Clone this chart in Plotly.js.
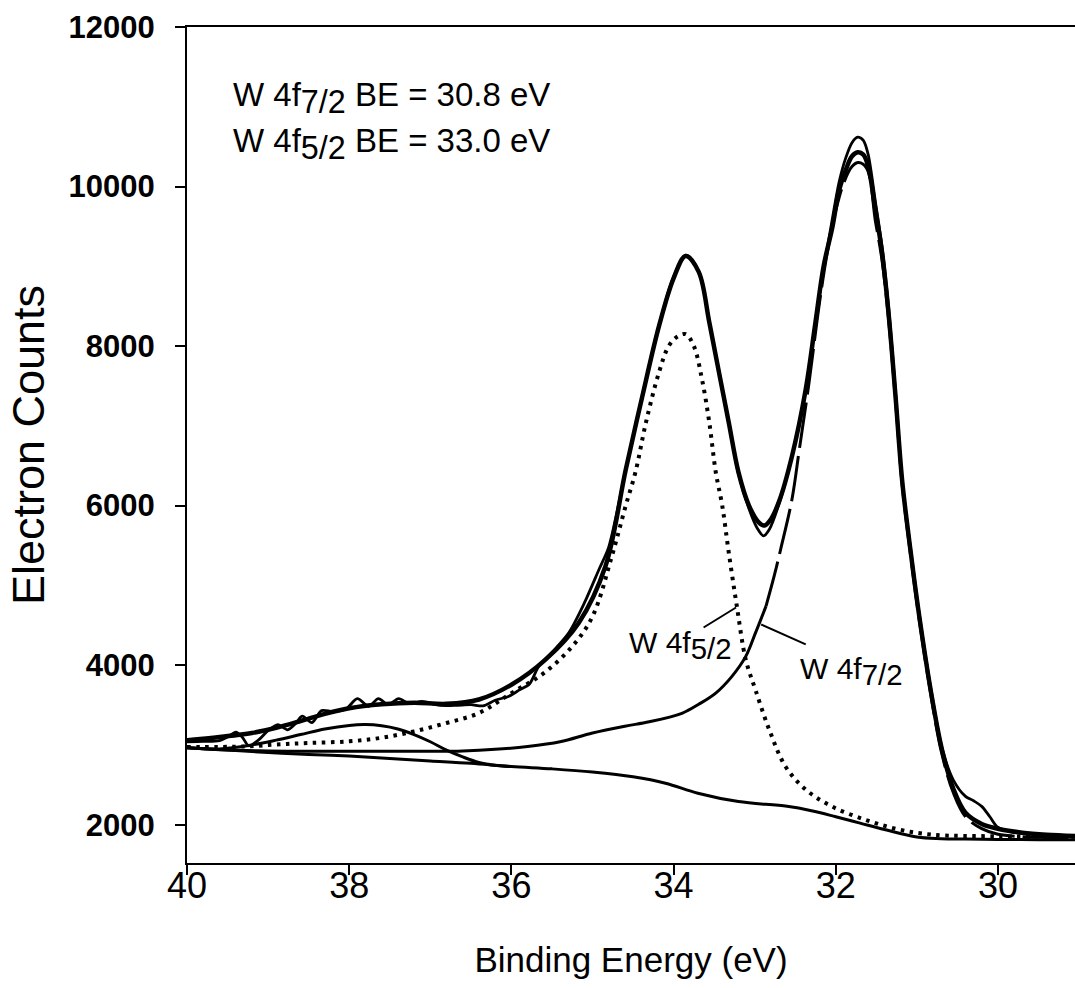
<!DOCTYPE html>
<html>
<head>
<meta charset="utf-8">
<script src="https://cdn.plot.ly/plotly-3.0.1.min.js"></script>
<style>
  html, body { margin: 0; padding: 0; background: #fff; }
  #chart { width: 1075px; height: 988px; }
</style>
</head>
<body>
<div id="chart"></div>
<script>
// Raw spectrum (binding energy in eV, electron counts)
const rawE = [40.0, 39.8, 39.6, 39.48, 39.4, 39.32, 39.24, 39.12, 39.0, 38.88, 38.76, 38.66, 38.58, 38.46, 38.34, 38.2, 38.04, 37.9, 37.76, 37.64, 37.52, 37.39, 37.26, 37.1, 36.9, 36.7, 36.5, 36.35, 36.2, 36.03, 35.9, 35.78, 35.66, 35.5, 35.29, 35.1, 34.92, 34.8, 34.59, 34.39, 34.18, 34.0, 33.85, 33.69, 33.56, 33.44, 33.32, 33.2, 33.07, 32.97, 32.89, 32.82, 32.7, 32.54, 32.37, 32.2, 32.05, 31.96, 31.88, 31.8, 31.73, 31.66, 31.6, 31.51, 31.43, 31.35, 31.26, 31.18, 31.08, 30.97, 30.81, 30.69, 30.55, 30.4, 30.3, 30.2, 30.1, 30.0, 29.8, 29.5, 29.05];
const rawC = [3040, 3045, 3055, 3110, 3160, 3100, 2990, 3060, 3180, 3255, 3190, 3270, 3360, 3280, 3430, 3420, 3450, 3580, 3485, 3580, 3505, 3580, 3520, 3545, 3500, 3495, 3505, 3490, 3560, 3610, 3690, 3760, 3990, 4160, 4410, 4780, 5200, 5480, 6450, 7360, 8260, 8870, 9140, 8940, 8310, 7680, 7050, 6400, 5960, 5720, 5620, 5700, 6020, 6620, 7460, 8650, 9550, 10050, 10350, 10550, 10620, 10580, 10400, 9800, 9250, 8500, 7380, 6300, 5480, 4640, 3600, 2960, 2560, 2355, 2300, 2230, 2100, 1965, 1905, 1880, 1860];

// Fit envelope
const envE = [40.0, 39.6, 39.2, 38.9, 38.6, 38.3, 38.0, 37.6, 37.2, 36.8, 36.4, 36.0, 35.58, 35.17, 34.84, 34.59, 34.39, 34.18, 34.0, 33.85, 33.69, 33.56, 33.44, 33.32, 33.2, 33.07, 32.95, 32.88, 32.8, 32.7, 32.54, 32.37, 32.25, 32.15, 32.04, 31.96, 31.88, 31.8, 31.73, 31.66, 31.6, 31.51, 31.43, 31.35, 31.26, 31.18, 31.08, 30.97, 30.81, 30.69, 30.55, 30.4, 30.2, 30.0, 29.7, 29.4, 29.05];
const envC = [3060, 3100, 3150, 3215, 3300, 3390, 3460, 3510, 3530, 3515, 3570, 3755, 4070, 4530, 5240, 6450, 7350, 8250, 8850, 9130, 8930, 8300, 7670, 7045, 6420, 6000, 5790, 5750, 5830, 6050, 6620, 7460, 8300, 9000, 9500, 9950, 10200, 10380, 10430, 10400, 10250, 9700, 9180, 8420, 7330, 6300, 5450, 4610, 3570, 2940, 2450, 2150, 2010, 1950, 1900, 1875, 1860];

// W 4f7/2 component (on background)
const c72E = [40.0, 39.5, 39.0, 38.5, 38.0, 37.5, 37.0, 36.6, 36.2, 35.8, 35.4, 35.0, 34.6, 34.3, 33.89, 33.69, 33.48, 33.28, 33.11, 32.99, 32.86, 32.76, 32.68, 32.54, 32.45, 32.33, 32.2, 32.1, 32.0, 31.9, 31.8, 31.72, 31.62, 31.51, 31.43, 31.35, 31.26, 31.18, 31.08, 30.97, 30.81, 30.69, 30.55, 30.4, 30.2, 30.0, 29.7, 29.4, 29.05];
const c72C = [2965, 2935, 2925, 2920, 2920, 2920, 2920, 2925, 2945, 2980, 3040, 3150, 3235, 3290, 3400, 3510, 3650, 3860, 4110, 4405, 4740, 5115, 5450, 6080, 6700, 7540, 8550, 9200, 9700, 10050, 10250, 10300, 10230, 9560, 9080, 8350, 7280, 6250, 5400, 4560, 3520, 2880, 2400, 2100, 1950, 1880, 1850, 1840, 1835];

// W 4f5/2 component (on background)
const c52E = [40.0, 39.3, 38.9, 38.5, 38.0, 37.6, 37.2, 36.8, 36.4, 36.0, 35.6, 35.25, 35.0, 34.76, 34.59, 34.47, 34.34, 34.18, 34.06, 33.95, 33.85, 33.75, 33.65, 33.56, 33.48, 33.4, 33.32, 33.22, 33.11, 32.99, 32.82, 32.62, 32.37, 32.05, 31.63, 31.22, 30.81, 30.0, 29.05];
const c52C = [2975, 2980, 3005, 3025, 3045, 3090, 3170, 3275, 3400, 3650, 3900, 4235, 4610, 5370, 6000, 6420, 7045, 7670, 8000, 8120, 8150, 8000, 7585, 7045, 6420, 6000, 5415, 4740, 4070, 3690, 3190, 2730, 2440, 2230, 2060, 1940, 1875, 1855, 1850];

// Small satellite peak near 37.8 eV
const satE = [40.0, 39.6, 39.2, 38.9, 38.6, 38.3, 38.0, 37.8, 37.6, 37.4, 37.2, 37.0, 36.8, 36.6, 36.4, 36.2, 36.0];
const satC = [2965, 2950, 3000, 3060, 3130, 3200, 3245, 3255, 3240, 3200, 3130, 3040, 2935, 2850, 2780, 2745, 2730];

// Shirley background
const bgE = [40.0, 39.5, 39.0, 38.5, 38.0, 37.5, 37.0, 36.5, 36.0, 35.5, 35.0, 34.5, 34.1, 33.7, 33.2, 32.6, 32.3, 32.0, 31.7, 31.4, 31.0, 30.7, 30.4, 30.0, 29.5, 29.05];
const bgC = [2965, 2935, 2905, 2880, 2860, 2830, 2800, 2770, 2730, 2700, 2660, 2600, 2520, 2395, 2290, 2230, 2175, 2100, 2020, 1940, 1845, 1825, 1820, 1815, 1812, 1810];

// Axis ticks
const xTicks = [40, 38, 36, 34, 32, 30];
const yTicks = [2000, 4000, 6000, 8000, 10000, 12000];

const splitAt = c72E.indexOf(32.86); // solid below, long-dash above

const FONT = 'Liberation Sans, Arial, Helvetica, sans-serif';
const line = (w, dash, sm) => ({ color: '#000', width: w, dash: dash || 'solid', shape: 'spline', smoothing: sm === undefined ? 1 : sm });

const traces = [
  { x: bgE, y: bgC, mode: 'lines', line: line(3) },
  { x: satE, y: satC, mode: 'lines', line: line(3) },
  { x: c72E.slice(0, splitAt + 1), y: c72C.slice(0, splitAt + 1), mode: 'lines', line: line(3) },
  { x: c72E.slice(splitAt), y: c72C.slice(splitAt), mode: 'lines', line: line(3, '46px,8px') },
  { x: c52E, y: c52C, mode: 'lines', line: line(4, '3.5px,5.5px') },
  { x: envE, y: envC, mode: 'lines', line: line(4.5) },
  { x: rawE, y: rawC, mode: 'lines', line: line(2.8, 'solid', 0.8) }
];

const layout = {
  width: 1075, height: 988,
  margin: { l: 187, r: 0, t: 27, b: 125 },
  paper_bgcolor: '#fff', plot_bgcolor: '#fff',
  showlegend: false,
  font: { family: FONT, color: '#000' },
  xaxis: {
    range: [40, 29.05], tickvals: xTicks, ticktext: xTicks.map(String),
    showgrid: false, zeroline: false,
    showline: true, linecolor: '#000', linewidth: 2, mirror: true,
    ticks: 'outside', ticklen: 10, tickwidth: 2, tickcolor: '#000',
    ticklabelstandoff: -20,
    tickfont: { family: FONT, size: 36, color: '#000' },
    title: { text: 'Binding Energy (eV)', font: { family: FONT, size: 35, color: '#000' }, standoff: 42 }
  },
  yaxis: {
    range: [1520, 12000], tickvals: yTicks, ticktext: yTicks.map(String),
    showgrid: false, zeroline: false,
    showline: true, linecolor: '#000', linewidth: 2,
    ticks: 'outside', ticklen: 10, tickwidth: 2, tickcolor: '#000',
    ticklabelstandoff: 14,
    tickfont: { family: FONT, size: 31, color: '#000', weight: 'bold' },
    title: { text: 'Electron Counts', font: { family: FONT, size: 45, color: '#000' }, standoff: 10 }
  },
  annotations: [
    { xref: 'paper', yref: 'paper', x: 0.05, y: 0.915, xanchor: 'left', yanchor: 'middle', showarrow: false,
      text: 'W 4f<sub><span style="font-size:140%">7/2</span></sub> BE = 30.8 eV', font: { family: FONT, size: 33, color: '#000' } },
    { xref: 'paper', yref: 'paper', x: 0.05, y: 0.86, xanchor: 'left', yanchor: 'middle', showarrow: false,
      text: 'W 4f<sub><span style="font-size:140%">5/2</span></sub> BE = 33.0 eV', font: { family: FONT, size: 33, color: '#000' } },
    { xref: 'x', yref: 'y', x: 34.57, y: 4246, xanchor: 'left', yanchor: 'middle', showarrow: false,
      text: 'W 4f<sub><span style="font-size:140%">5/2</span></sub>', font: { family: FONT, size: 30, color: '#000' } },
    { xref: 'x', yref: 'y', x: 32.46, y: 3920, xanchor: 'left', yanchor: 'middle', showarrow: false,
      text: 'W 4f<sub><span style="font-size:140%">7/2</span></sub>', font: { family: FONT, size: 30, color: '#000' } }
  ],
  shapes: [
    { type: 'line', xref: 'x', yref: 'y', x0: 33.63, y0: 4472, x1: 33.23, y1: 4723, line: { color: '#000', width: 2 } },
    { type: 'line', xref: 'x', yref: 'y', x0: 32.92, y0: 4510, x1: 32.37, y1: 4260, line: { color: '#000', width: 2 } }
  ]
};

Plotly.newPlot('chart', traces, layout, { staticPlot: true, displayModeBar: false });
</script>
</body>
</html>
